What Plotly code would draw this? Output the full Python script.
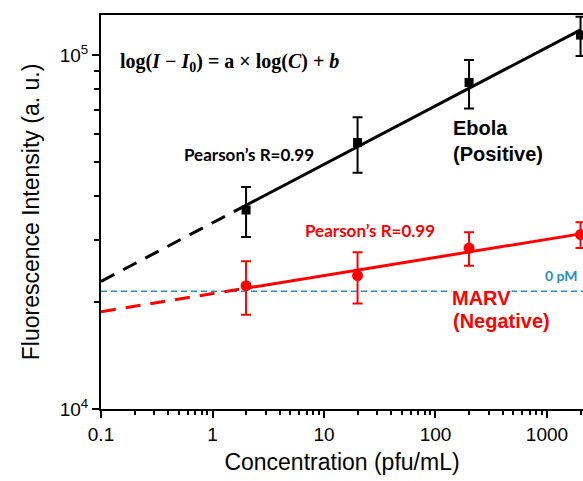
import numpy as np
import plotly.graph_objects as go

# ---- data ----
conc = [2, 20, 200, 2000]                      # pfu/mL
ebola_mean = [36500, 56600, 83700, 113900]     # a.u.
ebola_err = [5900, 10100, 13100, 14500]
marv_mean = [22300, 23800, 28500, 31100]
marv_err = [3850, 3950, 3100, 2600]
baseline_0pM = 21500
extrap_from = 0.1

x_tickvals = [0.1, 1, 10, 100, 1000]
x_ticktext = ["0.1", "1", "10", "100", "1000"]
y_tickvals = [1e4, 1e5]
y_ticktext = ["10<sup>4</sup>", "10<sup>5</sup>"]
x_minor = [m * 10.0 ** e for e in range(-1, 4) for m in range(2, 10)]
y_minor = [m * 1e4 for m in range(2, 10)]

BLACK = "#000000"
RED = "#ff0000"
BLUE = "#2b8cc4"


def loglog_fit(x, y):
    a, b = np.polyfit(np.log10(x), np.log10(y), 1)
    return lambda xx: 10 ** (a * np.log10(np.asarray(xx, dtype=float)) + b)


fe = loglog_fit(conc, ebola_mean)
fm = loglog_fit(conc, marv_mean)
xs_solid = np.array([conc[0], conc[-1]], dtype=float)
xs_dash = np.array([extrap_from, conc[0]], dtype=float)

fig = go.Figure()

fig.add_shape(type="line", xref="paper", x0=0, x1=1, yref="y",
              y0=baseline_0pM, y1=baseline_0pM,
              line=dict(color=BLUE, width=1.5, dash="6px,4px"), layer="below")

for f, col in [(fe, BLACK), (fm, RED)]:
    fig.add_trace(go.Scatter(x=xs_dash, y=f(xs_dash), mode="lines",
                             line=dict(color=col, width=3, dash="15px,10px"),
                             hoverinfo="skip"))
    fig.add_trace(go.Scatter(x=xs_solid, y=f(xs_solid), mode="lines",
                             line=dict(color=col, width=3), hoverinfo="skip"))

fig.add_trace(go.Scatter(
    x=conc, y=ebola_mean, mode="markers",
    marker=dict(symbol="square", size=9, color=BLACK),
    error_y=dict(type="data", array=ebola_err, color=BLACK, thickness=2, width=5),
    cliponaxis=False))
fig.add_trace(go.Scatter(
    x=conc, y=marv_mean, mode="markers",
    marker=dict(symbol="circle", size=11, color=RED),
    error_y=dict(type="data", array=marv_err, color=RED, thickness=2, width=5),
    cliponaxis=False))

SANS = "Liberation Sans, Arial, sans-serif"
axis_font = dict(family=SANS, size=19, color="black")
lab_font = "Lato, Calibri, sans-serif"

fig.update_layout(
    width=583, height=481,
    margin=dict(l=101, r=0, t=15, b=72),
    paper_bgcolor="white", plot_bgcolor="white",
    showlegend=False,
    font=dict(family=SANS, color="black"),
    xaxis=dict(type="log", range=[-1, 3.323], automargin=False,
               showline=True, linecolor="black", linewidth=2, mirror=True,
               ticks="outside", ticklen=7, tickwidth=2, tickcolor="black",
               tickvals=x_tickvals, ticktext=x_ticktext, tickfont=axis_font,
               minor=dict(tickvals=x_minor, ticks="outside", ticklen=4,
                          tickwidth=1.5, tickcolor="black", showgrid=False),
               showgrid=False, zeroline=False,
               title=dict(text="Concentration (pfu/mL)", standoff=10,
                          font=dict(family=SANS, size=23))),
    yaxis=dict(type="log", range=[4, 5.1133], automargin=False,
               showline=True, linecolor="black", linewidth=2, mirror=False,
               ticks="outside", ticklen=7, tickwidth=2, tickcolor="black",
               tickvals=y_tickvals, ticktext=y_ticktext, tickfont=axis_font,
               minor=dict(tickvals=y_minor, ticks="outside", ticklen=5,
                          tickwidth=1.5, tickcolor="black", showgrid=False),
               showgrid=False, zeroline=False,
               title=dict(text="Fluorescence Intensity (a. u.)", standoff=14,
                          font=dict(family=SANS, size=23))),
)

ann = [
    dict(x=0.0353, y=0.879, xanchor="left", yanchor="middle",
         text="<b>log(<i>I</i> − <i>I</i><sub>0</sub>) = a × log(<i>C</i>) + <i>b</i></b>",
         font=dict(family="Liberation Serif, Times New Roman, serif", size=20, color=BLACK)),
    dict(x=0.308, y=0.647, xanchor="center", yanchor="middle",
         text="<b>Pearson’s R=0.99</b>", font=dict(family=lab_font, size=17, color=BLACK)),
    dict(x=0.726, y=0.680, xanchor="left", yanchor="middle", align="left",
         text="<b>Ebola<br>(Positive)</b>",
         font=dict(family=SANS, size=20, color=BLACK)),
    dict(x=0.558, y=0.452, xanchor="center", yanchor="middle",
         text="<b>Pearson’s R=0.99</b>", font=dict(family=lab_font, size=17, color=RED)),
    dict(x=0.9938, y=0.3376, xanchor="right", yanchor="middle",
         text="<b>0 pM</b>", font=dict(family=lab_font, size=14, color=BLUE)),
    dict(x=0.726, y=0.2817, xanchor="left", yanchor="middle", align="left",
         text="<b>MARV</b>", bgcolor="white", borderpad=0,
         font=dict(family=SANS, size=20, color=RED)),
    dict(x=0.726, y=0.2234, xanchor="left", yanchor="middle", align="left",
         text="<b>(Negative)</b>",
         font=dict(family=SANS, size=20, color=RED)),
]
for a in ann:
    a.update(xref="paper", yref="paper", showarrow=False)
    fig.add_annotation(**a)

# remove the default 8px page margin so the 583x481 figure fills the window exactly
fig.write_html("out.html",
               config={"displayModeBar": False},
               post_script="document.body.style.margin='0';"
                           "document.body.style.overflow='hidden';")
